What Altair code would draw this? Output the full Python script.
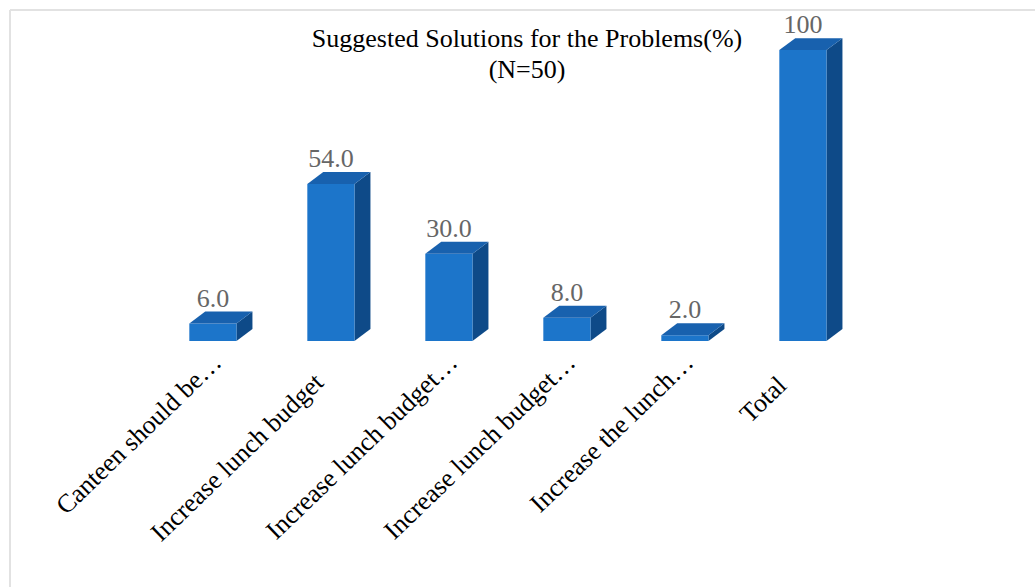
import altair as alt
import pandas as pd

# Survey results: suggested solutions (% of respondents, N=50)
categories = [
    "Canteen should be…",
    "Increase lunch budget",
    "Increase lunch budget…",
    "Increase lunch budget…",
    "Increase the lunch…",
    "Total",
]
values = [6.0, 54.0, 30.0, 8.0, 2.0, 100.0]
value_labels = [f"{v:.1f}" if v < 100 else f"{v:.0f}" for v in values]

# 3D bar geometry, in data units (x: category slots, y: percent)
FRONT_L, FRONT_R = -0.26, 0.14   # front face edges relative to slot centre
DX, DY = 0.135, 4.1              # depth offset of the receding faces

SERIF = "Liberation Serif"
FONT_SIZE = 26
FRONT_COLOR = "#1C75CA"
TOP_COLOR = "#1861AE"
SIDE_COLOR = "#0E4A88"

n = len(categories)
idx = list(range(n))

front = pd.DataFrame({
    "idx": idx,
    "x0": [i + FRONT_L for i in idx],
    "x1": [i + FRONT_R for i in idx],
    "xc": [i + (FRONT_L + FRONT_R) / 2 for i in idx],
    "value": values,
    "base": [0.0] * n,
    "label_y": [v + DY for v in values],
    "label": value_labels,
})

side_rows, top_rows = [], []
for i, v in zip(idx, values):
    side_rows.append({"idx": i, "x": i + FRONT_R, "top": v, "bottom": 0.0})
    side_rows.append({"idx": i, "x": i + FRONT_R + DX, "top": v + DY, "bottom": DY})
    top_rows.append({"idx": i, "y": v, "xl": i + FRONT_L, "xr": i + FRONT_R})
    top_rows.append({"idx": i, "y": v + DY, "xl": i + FRONT_L + DX, "xr": i + FRONT_R + DX})
side = pd.DataFrame(side_rows)
top = pd.DataFrame(top_rows)

xscale = alt.Scale(domain=[-0.5, n - 0.5], nice=False, zero=False)
yscale = alt.Scale(domain=[0, 110], nice=False)

# category labels: shortened ones (with an ellipsis) sit closer to the axis,
# short ones are pulled further back along the diagonal
label_array = "[" + ",".join("'" + c + "'" for c in categories) + "]"
full_idx = [i for i, c in enumerate(categories) if not c.endswith("…")]
full_test = " || ".join(f"datum.value == {i}" for i in full_idx)
short_idx = [i for i, c in enumerate(categories) if len(c) < 10]
short_test = " || ".join(f"datum.value == {i}" for i in short_idx)

xaxis = alt.Axis(
    values=idx, labelExpr=label_array + "[datum.value]",
    labelAngle=-44, labelAlign="right", labelBaseline="middle",
    labelFont=SERIF, labelFontSize=FONT_SIZE, labelColor="#000000",
    labelPadding={"condition": [{"test": short_test, "value": 40},
                                {"test": full_test, "value": 37}], "value": 17},
    labelOffset={"condition": [{"test": short_test, "value": -28},
                               {"test": full_test, "value": -19}], "value": -3},
    labelLimit=0, domain=False, ticks=False, grid=False,
    labelOverlap=False, labelBound=False, labelFlush=False, title=None,
)
yaxis = None

front_bars = alt.Chart(front).mark_rect(color=FRONT_COLOR).encode(
    x=alt.X("x0:Q", scale=xscale, axis=xaxis),
    x2="x1:Q",
    y=alt.Y("value:Q", scale=yscale, axis=yaxis),
    y2="base:Q",
)

side_faces = alt.Chart(side).mark_area(orient="vertical", color=SIDE_COLOR).encode(
    x=alt.X("x:Q", scale=xscale, axis=xaxis),
    y=alt.Y("top:Q", scale=yscale, axis=yaxis),
    y2="bottom:Q",
    detail="idx:N",
)

top_faces = alt.Chart(top).mark_area(orient="horizontal", color=TOP_COLOR).encode(
    y=alt.Y("y:Q", scale=yscale, axis=yaxis),
    x=alt.X("xl:Q", scale=xscale, axis=xaxis),
    x2="xr:Q",
    detail="idx:N",
)

value_text = alt.Chart(front).mark_text(
    font=SERIF, fontSize=FONT_SIZE, color="#666666", baseline="alphabetic", dy=-5
).encode(
    x=alt.X("xc:Q", scale=xscale, axis=xaxis),
    y=alt.Y("label_y:Q", scale=yscale, axis=yaxis),
    text="label:N",
)

# light frame around the chart area
frame_data = alt.Data(values=[{}])
frame_top = alt.Chart(frame_data).mark_rule(color="#E2E2E2", strokeWidth=2).encode(
    x=alt.value(-151), x2=alt.value(874), y=alt.value(-11)
)
frame_left = alt.Chart(frame_data).mark_rule(color="#E2E2E2", strokeWidth=2).encode(
    x=alt.value(-151), y=alt.value(-11), y2=alt.value(566)
)

chart = alt.layer(
    frame_top, frame_left, side_faces, front_bars, top_faces, value_text
).properties(
    width=708,
    height=320,
    autosize=alt.AutoSizeParams(type="none"),
    padding={"left": 161, "top": 21, "right": 166, "bottom": 246},
    title=alt.Title(
        ["Suggested Solutions for the Problems(%)", "(N=50)"],
        font=SERIF, fontSize=FONT_SIZE, fontWeight="normal", color="#000000",
        anchor="middle", dx=12, offset=-74, lineHeight=31,
    ),
).configure(
    background="#FFFFFF",
    view=alt.ViewConfig(strokeWidth=0, stroke="transparent"),
)

chart.save("out.html", embed_options={"renderer": "svg", "actions": False})
